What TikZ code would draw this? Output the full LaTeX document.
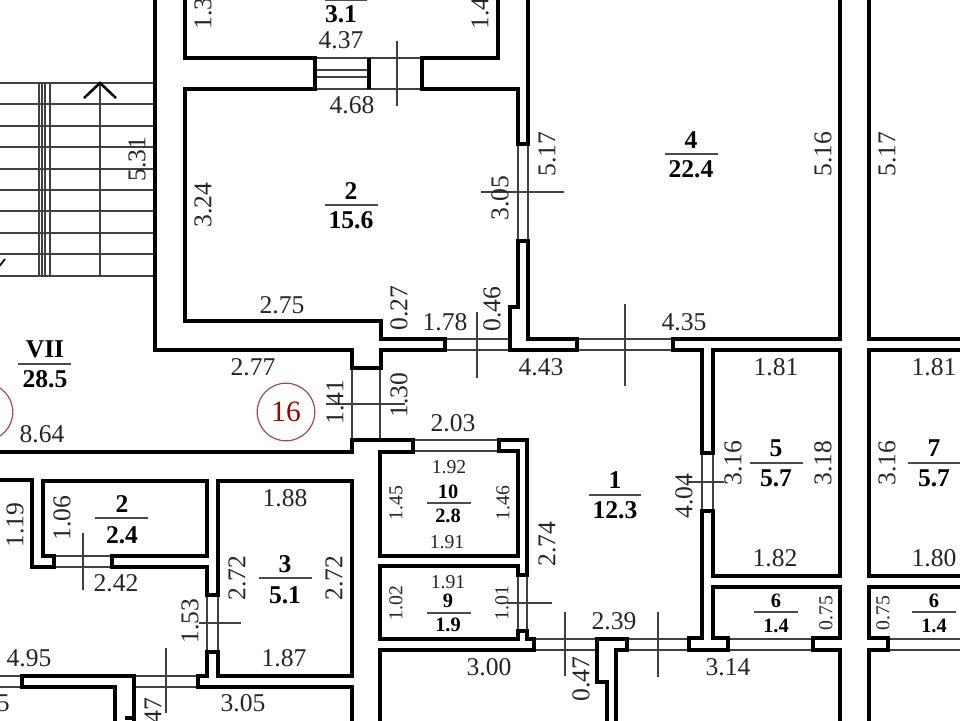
\documentclass[tikz,border=0pt]{standalone}
\usepackage{fontspec}
\setmainfont{Liberation Serif}
\tikzset{
  wall/.style={line width=3.1pt, line join=miter, black},
  thinline/.style={line width=0.85pt, black!75},
  dimline/.style={line width=0.75pt, black!75},
  rule/.style={line width=0.85pt, black!70},
  dim/.style={inner sep=0pt, font=\fontsize{18.2}{20}\selectfont, black!85},
  dimv/.style={dim, rotate=90},
  small/.style={inner sep=0pt, font=\fontsize{14}{16}\selectfont, black!85},
  smallv/.style={small, rotate=90},
  area/.style={inner sep=0pt, font=\fontsize{18.2}{20}\selectfont\bfseries},
  areasmall/.style={inner sep=0pt, font=\fontsize{14.5}{16}\selectfont\bfseries},
  mark16/.style={circle, minimum size=41pt, inner sep=0pt, draw=red!50!black!70, line width=0.85pt, text=red!65!black, font=\fontsize{21}{24}\selectfont}
}
\begin{document}
\begin{tikzpicture}[x=0.25mm, y=-0.25mm]
\clip (0,0) rectangle (960,720);
\fill[white] (0,0) rectangle (960,720);
%%Stairs
\draw[thinline] (-5,83) -- (155,83);
\draw[thinline] (-5,104) -- (155,104);
\draw[thinline] (-5,126) -- (155,126);
\draw[thinline] (-5,147) -- (155,147);
\draw[thinline] (-5,169) -- (155,169);
\draw[thinline] (-5,190) -- (155,190);
\draw[thinline] (-5,211) -- (155,211);
\draw[thinline] (-5,233) -- (155,233);
\draw[thinline] (-5,254) -- (155,254);
\draw[thinline] (-5,276) -- (155,276);
\draw[thinline] (39,83) -- (39,276);
\draw[thinline] (42,83) -- (42,276);
\draw[thinline] (45,83) -- (45,276);
\draw[thinline] (50,83) -- (50,276);
\draw[thinline] (100,83) -- (100,276);
\draw[line width=1.8pt] (84,98) -- (100,83) -- (116,98); %%Up
\draw[line width=1.2pt] (-2,268) -- (5,259); %%Down
%%Openings
\draw[thinline] (315,58) -- (422,58);
\draw[thinline] (315,89) -- (422,89);
\draw[thinline] (315,70) -- (369,70);
\draw[thinline] (315,77) -- (369,77);
\draw[thinline] (518,144) -- (518,241);
\draw[thinline] (528,144) -- (528,241);
\draw[thinline] (445,339) -- (510,339);
\draw[thinline] (445,350) -- (510,350);
\draw[thinline] (577,339) -- (673,339);
\draw[thinline] (577,350) -- (673,350);
\draw[thinline] (352,368) -- (352,440);
\draw[thinline] (380,368) -- (380,440);
\draw[thinline] (413,440) -- (499,440);
\draw[thinline] (413,451) -- (499,451);
\draw[thinline] (702,453) -- (702,511);
\draw[thinline] (713,453) -- (713,511);
\draw[thinline] (518,575) -- (518,631);
\draw[thinline] (527,575) -- (527,631);
\draw[thinline] (534,639) -- (597,639);
\draw[thinline] (534,650) -- (597,650);
\draw[thinline] (627,639) -- (689,639);
\draw[thinline] (627,650) -- (689,650);
\draw[thinline] (728,639) -- (813,639);
\draw[thinline] (728,650) -- (813,650);
\draw[thinline] (888,639) -- (965,639);
\draw[thinline] (888,650) -- (965,650);
\draw[thinline] (54,556) -- (112,556);
\draw[thinline] (54,567) -- (112,567);
\draw[thinline] (207,595) -- (207,652);
\draw[thinline] (218,595) -- (218,652);
\draw[thinline] (134,676) -- (198,676);
\draw[thinline] (134,687) -- (198,687);
\draw[thinline] (-5,676) -- (22,676);
\draw[thinline] (-5,687) -- (22,687);
%%Ticks
\draw[dimline] (397,41) -- (397,106);
\draw[dimline] (481,192) -- (564,192);
\draw[dimline] (477,312) -- (477,378);
\draw[dimline] (625,304) -- (625,386);
\draw[dimline] (326,404) -- (405,404);
\draw[dimline] (688,482) -- (724,482);
\draw[dimline] (507,603) -- (552,603);
\draw[dimline] (565,612) -- (565,676);
\draw[dimline] (658,612) -- (658,677);
\draw[dimline] (83,533) -- (83,590);
\draw[dimline] (199,623) -- (241,623);
\draw[dimline] (166,648) -- (166,713);
%%Walls
\draw[wall] (155,-5) -- (155,350) -- (352,350) -- (352,368) -- (381,368) -- (381,350) -- (445,350) -- (445,339) -- (381,339) -- (381,321) -- (185,321) -- (185,89) -- (315,89) -- (315,58) -- (185,58) -- (185,-5); %%Room2Left
\draw[wall] (369,58) -- (369,89);
\draw[wall] (498,-5) -- (498,58) -- (422,58) -- (422,89) -- (518,89) -- (518,144) -- (528,144) -- (528,-5); %%Room2Right
\draw[wall] (518,241) -- (518,307) -- (510,307) -- (510,350) -- (577,350) -- (577,339) -- (528,339) -- (528,241) -- cycle; %%Room4Corner
\draw[wall] (840,-5) -- (840,339) -- (673,339) -- (673,350) -- (702,350) -- (702,453) -- (713,453) -- (713,350) -- (840,350) -- (840,576) -- (713,576) -- (713,511) -- (702,511) -- (702,638) -- (689,638) -- (689,650) -- (728,650) -- (728,638) -- (713,638) -- (713,587) -- (840,587) -- (840,638) -- (813,638) -- (813,650) -- (840,650) -- (840,725); %%Room5
\draw[wall] (965,339) -- (869,339) -- (869,-5);
\draw[wall] (965,350) -- (869,350) -- (869,576) -- (965,576); %%Room7
\draw[wall] (965,587) -- (869,587) -- (869,638) -- (888,638) -- (888,650) -- (869,650) -- (869,725);
\draw[wall] (-5,452) -- (352,452) -- (352,440) -- (413,440) -- (413,452) -- (380,452) -- (380,556) -- (518,556) -- (518,451) -- (499,451) -- (499,440) -- (527,440) -- (527,575) -- (518,575) -- (518,566) -- (380,566) -- (380,639) -- (518,639) -- (518,631) -- (527,631) -- (527,639) -- (534,639) -- (534,650) -- (380,650) -- (380,725); %%Rooms9and10
\draw[wall] (607,725) -- (607,682) -- (597,682) -- (597,639) -- (627,639) -- (627,650) -- (616,650) -- (616,725);
\draw[wall] (-5,480) -- (32,480) -- (32,567) -- (54,567) -- (54,556) -- (43,556) -- (43,481) -- (207,481) -- (207,556) -- (112,556) -- (112,567) -- (207,567) -- (207,595) -- (218,595) -- (218,481) -- (352,481) -- (352,676) -- (218,676) -- (218,652) -- (207,652) -- (207,676) -- (198,676) -- (198,687) -- (352,687) -- (352,725); %%Room3
\draw[wall] (115,725) -- (115,687) -- (22,687) -- (22,676) -- (134,676) -- (134,725);
\draw[wall] (125,718) -- (134,718);
%%Markers
\node[mark16] (markA) at (286,412) {16};
\node[mark16] (markB) at (-16,412) {};
%%Areas
\draw[rule] (325,0) -- (367,0);
\node[area] (a31) at (341,14) {3.1};
\node[area] (a2n) at (351,191) {2};
\draw[rule] (325,205) -- (378,205);
\node[area] (a2d) at (351,220) {15.6};
\node[area] (a4n) at (691,140) {4};
\draw[rule] (665,154) -- (718,154);
\node[area] (a4d) at (691,169) {22.4};
\node[area] (a7n) at (45,349) {VII};
\draw[rule] (18,364) -- (71,364);
\node[area] (a7d) at (45,379) {28.5};
\node[area] (r1n) at (615,480) {1};
\draw[rule] (589,495) -- (641,495);
\node[area] (r1d) at (615,510) {12.3};
\node[area] (r5n) at (776,448) {5};
\draw[rule] (750,463) -- (803,463);
\node[area] (r5d) at (776,478) {5.7};
\node[area] (r7n) at (934,448) {7};
\draw[rule] (908,463) -- (961,463);
\node[area] (r7d) at (934,478) {5.7};
\node[areasmall] (r10n) at (448,492) {10};
\draw[rule] (427,503) -- (471,503);
\node[areasmall] (r10d) at (448,516) {2.8};
\node[areasmall] (r9n) at (448,601) {9};
\draw[rule] (427,613) -- (471,613);
\node[areasmall] (r9d) at (448,625) {1.9};
\node[areasmall] (r6n) at (776,601) {6};
\draw[rule] (754,612) -- (798,612);
\node[areasmall] (r6d) at (776,626) {1.4};
\node[areasmall] (s6n) at (934,601) {6};
\draw[rule] (912,612) -- (956,612);
\node[areasmall] (s6d) at (934,626) {1.4};
\node[area] (t2n) at (122,504) {2};
\draw[rule] (95,518) -- (148,518);
\node[area] (t2d) at (122,535) {2.4};
\node[area] (t3n) at (285,564) {3};
\draw[rule] (259,578) -- (312,578);
\node[area] (t3d) at (285,595) {5.1};
%%Dimensions
\node[dim] (d1) at (341,40) {4.37};
\node[dim] (d2) at (352,105) {4.68};
\node[dim] (d3) at (282,305) {2.75};
\node[dim] (d4) at (253,367) {2.77};
\node[dim] (d5) at (42,434) {8.64};
\node[dim] (d6) at (445,322) {1.78};
\node[dim] (d7) at (541,367) {4.43};
\node[dim] (d8) at (684,322) {4.35};
\node[dim] (d9) at (776,367) {1.81};
\node[dim] (d10) at (934,367) {1.81};
\node[dim] (d11) at (453,423) {2.03};
\node[dim] (d12) at (614,621) {2.39};
\node[dim] (d13) at (489,667) {3.00};
\node[dim] (d14) at (728,667) {3.14};
\node[dim] (d15) at (775,558) {1.82};
\node[dim] (d16) at (934,558) {1.80};
\node[dim] (d17) at (116,583) {2.42};
\node[dim] (d18) at (285,498) {1.88};
\node[dim] (d19) at (284,658) {1.87};
\node[dim] (d20) at (243,703) {3.05};
\node[dim] (d21) at (29,658) {4.95};
\node[dim, anchor=east] (d22) at (10,703) {5};
\node[small] (s1) at (449,467) {1.92};
\node[small] (s2) at (447,542) {1.91};
\node[small] (s3) at (448,582) {1.91};
\node[dimv] (v1) at (137,159) {5.31};
\node[dimv] (v2) at (203,205) {3.24};
\node[dimv] (v3) at (547,154) {5.17};
\node[dimv] (v4) at (500,198) {3.05};
\node[dimv] (v5) at (823,154) {5.16};
\node[dimv] (v6) at (887,154) {5.17};
\node[dimv] (v7) at (399,308) {0.27};
\node[dimv] (v8) at (492,309) {0.46};
\node[dimv] (v9) at (335,402) {1.41};
\node[dimv] (v10) at (399,395) {1.30};
\node[dimv] (v11) at (733,463) {3.16};
\node[dimv] (v12) at (823,463) {3.18};
\node[dimv] (v13) at (887,463) {3.16};
\node[dimv] (v14) at (684,496) {4.04};
\node[dimv] (v15) at (15,525) {1.19};
\node[dimv] (v16) at (62,518) {1.06};
\node[dimv] (v17) at (237,578) {2.72};
\node[dimv] (v18) at (334,578) {2.72};
\node[dimv] (v19) at (190,621) {1.53};
\node[dimv] (v20) at (547,544) {2.74};
\node[dimv] (v21) at (581,679) {0.47};
\node[dimv] (v22) at (153,720) {0.47};
\node[dimv, anchor=west] (v23) at (203,30) {1.3};
\node[dimv, anchor=west] (v24) at (480,30) {1.4};
\node[smallv] (w1) at (396,503) {1.45};
\node[smallv] (w2) at (503,503) {1.46};
\node[smallv] (w3) at (396,603) {1.02};
\node[smallv] (w4) at (502,603) {1.01};
\node[smallv] (w5) at (826,613) {0.75};
\node[smallv] (w6) at (883,613) {0.75};
\end{tikzpicture}
\end{document}
